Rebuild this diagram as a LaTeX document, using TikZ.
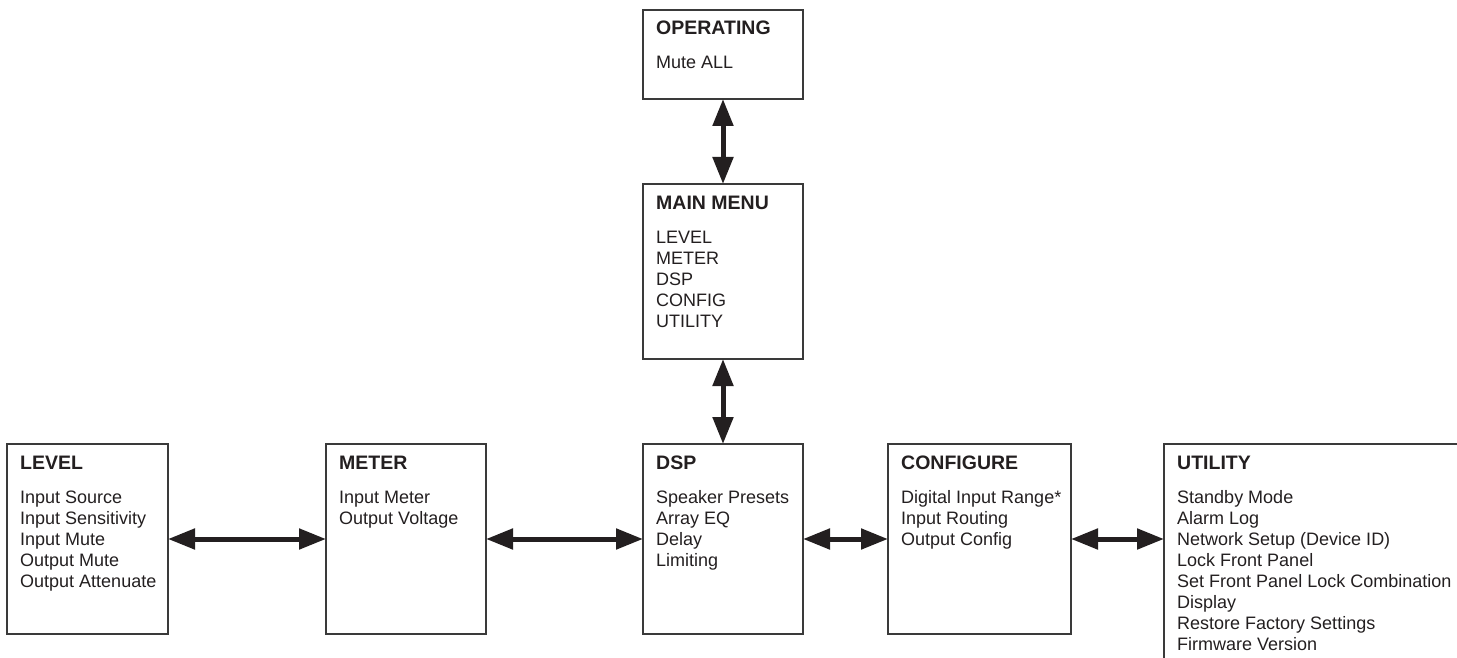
\documentclass[tikz,border=0pt]{standalone}
\usepackage{fontspec}
\setmainfont{Liberation Sans}
\usetikzlibrary{arrows.meta}
\definecolor{boxline}{HTML}{3A3A3A}
\definecolor{ink}{HTML}{231F20}
\tikzset{
  menubox/.style={draw=boxline, line width=1.3pt, inner sep=0pt, outer sep=0pt, anchor=north west},
  titletext/.style={anchor=base west, inner sep=0pt, text=ink, font=\fontsize{19.5}{21}\selectfont\bfseries},
  itemtext/.style={anchor=base west, inner sep=0pt, text=ink, font=\fontsize{18}{21}\selectfont},
  dblarrow/.style={draw=ink, line width=5pt, {Triangle[length=27pt,width=20pt]}-{Triangle[length=27pt,width=20pt]}}
}
% #1 name, #2 x, #3 y (top), #4 title, #5 items
\newcommand{\boxtexts}[5]{%
  \node[titletext] (#1-t) at (#2+13,#3+25) {#4};
  \foreach \it [count=\i] in {#5} {
    \node[itemtext] (#1-\i) at (#2+13,#3+59+21*\i-21) {\it};
  }
}
\begin{document}
\begin{tikzpicture}[x=1pt,y=-1pt]
\useasboundingbox (0,0) rectangle (1457,658);
% boxes
\node[menubox, minimum width=160pt, minimum height=89pt] (op) at (643,10) {};
\node[menubox, minimum width=160pt, minimum height=175pt] (mm) at (643,184) {};
\node[menubox, minimum width=161pt, minimum height=190pt] (lvl) at (7,444) {};
\node[menubox, minimum width=160pt, minimum height=190pt] (met) at (326,444) {};
\node[menubox, minimum width=160pt, minimum height=190pt] (dsp) at (643,444) {};
\node[menubox, minimum width=183pt, minimum height=190pt] (cfg) at (888,444) {};
% utility box (open on right and bottom)
\coordinate (utl) at (1164,444);
\coordinate (utlw) at (1164,539);
\draw[draw=boxline, line width=1.3pt] (1164,658) -- (utl) -- (1457,444);
% texts
\boxtexts{opx}{643}{10}{OPERATING}{Mute ALL}
\boxtexts{mmx}{643}{184}{MAIN MENU}{LEVEL,METER,DSP,CONFIG,UTILITY}
\boxtexts{lvlx}{7}{444}{LEVEL}{Input Source,Input Sensitivity,Input Mute,Output Mute,Output Attenuate}
\boxtexts{metx}{326}{444}{METER}{Input Meter,Output Voltage}
\boxtexts{dspx}{643}{444}{DSP}{Speaker Presets,Array EQ,Delay,Limiting}
\boxtexts{cfgx}{888}{444}{CONFIGURE}{Digital Input Range*,Input Routing,Output Config}
\boxtexts{utlx}{1164}{444}{UTILITY}{Standby Mode,Alarm Log,Network Setup (Device ID),Lock Front Panel,Set Front Panel Lock Combination,Display,Restore Factory Settings,Firmware Version}
% connectors
\draw[dblarrow] (op.south) -- (mm.north);
\draw[dblarrow] (mm.south) -- (dsp.north);
\draw[dblarrow] (lvl.east) -- (met.west);
\draw[dblarrow] (met.east) -- (dsp.west);
\draw[dblarrow] (dsp.east) -- (cfg.west);
\draw[dblarrow] (cfg.east) -- (utlw);
\end{tikzpicture}
\end{document}
